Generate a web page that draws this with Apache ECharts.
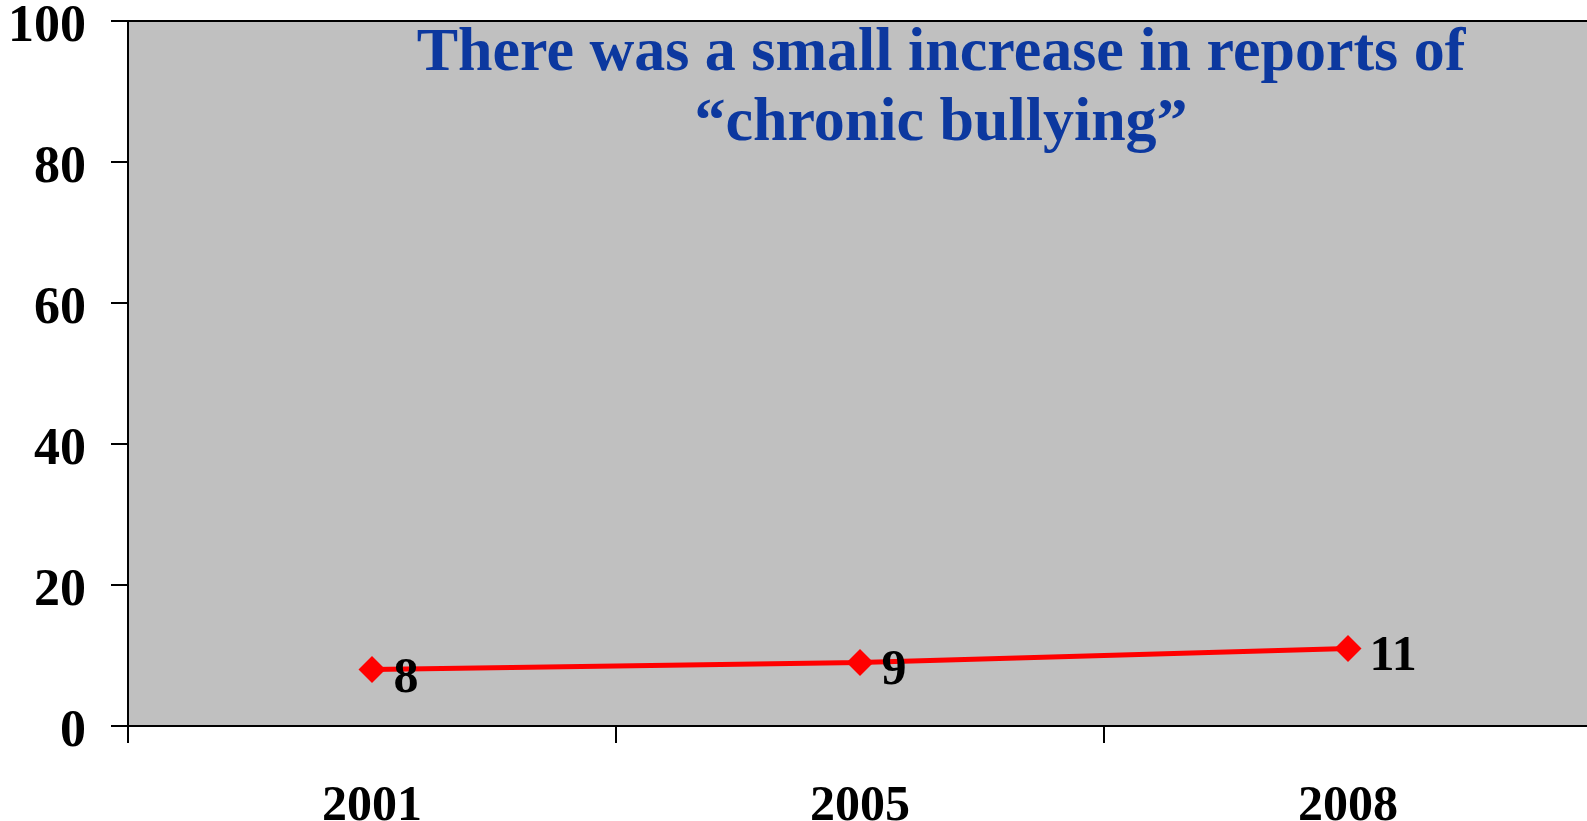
<!DOCTYPE html>
<html>
<head>
<meta charset="utf-8">
<script src="https://cdn.jsdelivr.net/npm/echarts@6/dist/echarts.min.js"></script>
<style>
  html, body { margin: 0; padding: 0; background: #ffffff; }
  #chart { width: 1587px; height: 821px; }
</style>
</head>
<body>
<div id="chart"></div>
<script>
  // data
  var years = ['2001', '2005', '2008'];
  var chronic = [8, 9, 11];
  var yTicks = [0, 20, 40, 60, 80, 100];

  var serif = '"Liberation Serif", "Times New Roman", serif';

  var myChart = echarts.init(document.getElementById('chart'));
  myChart.setOption({
    animation: false,
    title: {
      text: 'There was a small increase in reports of\n\u201cchronic bullying\u201d',
      left: 936,
      top: 14,
      textAlign: 'center',
      textStyle: {
        fontFamily: serif,
        fontWeight: 'bold',
        fontSize: 62,
        lineHeight: 70,
        color: '#0c389f'
      }
    },
    grid: {
      left: 128,
      top: 21,
      right: -5,
      bottom: 95,
      outerBoundsMode: 'none',
      containLabel: false,
      show: true,
      backgroundColor: '#c0c0c0',
      borderColor: '#000000',
      borderWidth: 2
    },
    xAxis: {
      type: 'category',
      data: years,
      boundaryGap: true,
      axisLine: { lineStyle: { color: '#000', width: 2 } },
      axisTick: { show: true, length: 17, lineStyle: { color: '#000', width: 2 } },
      axisLabel: {
        margin: 56,
        color: '#000',
        fontFamily: serif,
        fontWeight: 'bold',
        fontSize: 50
      },
      splitLine: { show: false }
    },
    yAxis: {
      type: 'value',
      min: yTicks[0],
      max: yTicks[yTicks.length - 1],
      interval: 20,
      axisLine: { show: true, lineStyle: { color: '#000', width: 2 } },
      axisTick: { show: true, length: 17, lineStyle: { color: '#000', width: 2 } },
      axisLabel: {
        margin: 42,
        color: '#000',
        fontFamily: serif,
        fontWeight: 'bold',
        fontSize: 52,
        verticalAlign: 'top',
        lineHeight: 14
      },
      splitLine: { show: false }
    },
    series: [{
      name: 'chronic bullying',
      type: 'line',
      data: chronic,
      symbol: 'diamond',
      symbolSize: 27,
      lineStyle: { color: '#ff0000', width: 5 },
      itemStyle: { color: '#ff0000' },
      label: {
        show: true,
        position: 'right',
        distance: 8,
        offset: [0, 9],
        color: '#000',
        fontFamily: serif,
        fontWeight: 'bold',
        fontSize: 50,
        padding: [26, 0, 0, 0]
      }
    }]
  });
</script>
</body>
</html>
